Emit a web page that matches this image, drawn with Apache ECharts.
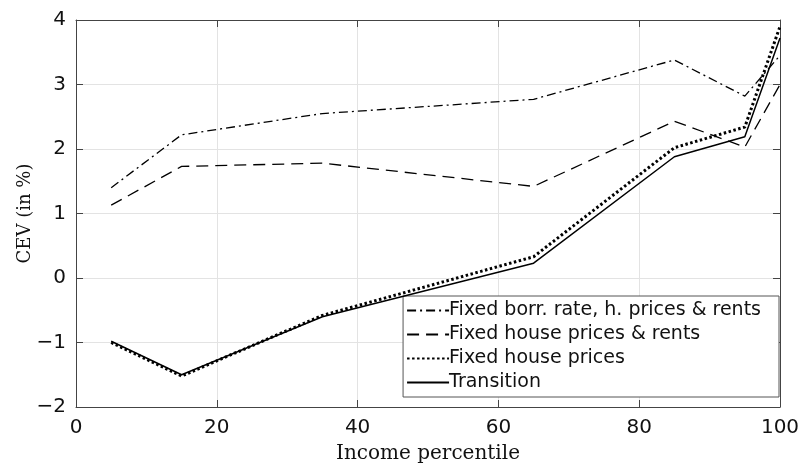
<!DOCTYPE html>
<html><head><meta charset="utf-8">
<script src="https://cdn.jsdelivr.net/npm/echarts@6/dist/echarts.min.js"></script>
<style>html,body{margin:0;padding:0;background:#fff}#c{width:803px;height:466px}</style>
</head><body><div id="c"></div>
<script>
var percentiles = [5, 15, 35, 65, 85, 95, 100];
var fixedBorr = [1.40, 2.22, 2.55, 2.77, 3.38, 2.82, 3.45];
var fixedPricesRents = [1.13, 1.73, 1.78, 1.42, 2.43, 2.03, 3.00];
var fixedPrices = [-1.00, -1.52, -0.58, 0.33, 2.02, 2.34, 3.90];
var transition = [-0.98, -1.50, -0.60, 0.23, 1.88, 2.19, 3.72];
var seriesNames = ['Fixed borr. rate, h. prices & rents', 'Fixed house prices & rents', 'Fixed house prices', 'Transition'];
var xTicks = [0, 20, 40, 60, 80, 100];
var yTicks = [-2, -1, 0, 1, 2, 3, 4];

function pairs(v){ return percentiles.map(function(x,i){ return [x, v[i]]; }); }
var tickFont = {fontFamily: 'DejaVu Sans', fontSize: 20, color: '#111'};
var chart = echarts.init(document.getElementById('c'));
var lineStyles = [
  {color:'#000', width:1.3, type:[9,4,2,4]},
  {color:'#000', width:1.3, type:[12,7]},
  {color:'#000', width:3, type:[2.5,2.5]},
  {color:'#000', width:1.5, type:'solid'}
];
var vals = [fixedBorr, fixedPricesRents, fixedPrices, transition];
chart.setOption({
  animation:false,
  grid:{left:76, right:23, top:20, bottom:59, outerBoundsMode:'none', containLabel:false},
  xAxis:[{type:'value', min:0, max:100, interval:20,
    axisLine:{show:true, onZero:false, lineStyle:{color:'#444', width:1}},
    axisTick:{show:true, inside:true, length:7, lineStyle:{color:'#444'}},
    splitLine:{show:true, lineStyle:{color:'#e3e3e3', width:1}},
    axisLabel:Object.assign({margin:11}, tickFont),
    name:'Income percentile', nameLocation:'middle', nameGap:37, nameMoveOverlap:false,
    nameTextStyle:{fontFamily:'DejaVu Serif', fontSize:20, color:'#111'}},
   {type:'value', min:0, max:100, interval:20, position:'top',
    axisLine:{show:true, onZero:false, lineStyle:{color:'#444'}},
    axisTick:{show:true, inside:true, length:7, lineStyle:{color:'#444'}},
    axisLabel:{show:false}, splitLine:{show:false}}],
  yAxis:[{type:'value', min:-2, max:4, interval:1,
    axisLine:{show:true, onZero:false, lineStyle:{color:'#444', width:1}},
    axisTick:{show:true, inside:true, length:7, lineStyle:{color:'#444'}},
    splitLine:{show:true, lineStyle:{color:'#e3e3e3', width:1}},
    axisLabel:Object.assign({margin:10, padding:[4,0,0,0], formatter:function(v){return v<0?'\u2212'+(-v):''+v;}}, tickFont),
    name:'CEV (in %)', nameLocation:'middle', nameGap:42, nameRotate:90, nameMoveOverlap:false,
    nameTextStyle:{fontFamily:'DejaVu Serif', fontSize:18, color:'#111'}},
   {type:'value', min:-2, max:4, interval:1, position:'right',
    axisLine:{show:true, onZero:false, lineStyle:{color:'#444'}},
    axisTick:{show:true, inside:true, length:7, lineStyle:{color:'#444'}},
    axisLabel:{show:false}, splitLine:{show:false}}],
  legend:{orient:'vertical', right:24, top:296, itemWidth:42, itemHeight:14, itemGap:5,
    backgroundColor:'#fff', borderColor:'#555', borderWidth:1, borderRadius:0,
    padding:[5,18,5,3],
    itemStyle:{opacity:0},
    textStyle:{fontFamily:'DejaVu Sans', fontSize:19, color:'#111', padding:[0,0,0,-5]},
    data:seriesNames},
  series: seriesNames.map(function(n,i){
    return {name:n, type:'line', data:pairs(vals[i]), showSymbol:false, symbol:'none',
      lineStyle:lineStyles[i], itemStyle:{color:'#000'}, z:2+i};
  })
});
</script></body></html>
